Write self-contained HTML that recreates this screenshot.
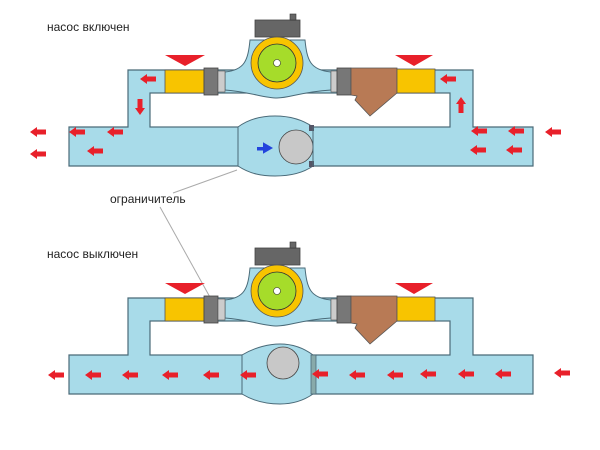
<!DOCTYPE html>
<html><head><meta charset="utf-8"><style>
html,body{margin:0;padding:0;background:#fff;width:600px;height:450px;overflow:hidden}
svg{display:block}
text{font-family:"Liberation Sans","DejaVu Sans",sans-serif;font-size:12px;fill:#222}
</style></head><body>
<svg width="600" height="450" viewBox="0 0 600 450" xmlns="http://www.w3.org/2000/svg">
<defs>
<g id="al"><path d="M-8,0 L-1,-5 L-1,-2.5 L8,-2.5 L8,2.5 L-1,2.5 L-1,5 Z" fill="#e8202a"/></g>
<g id="unit">
  <!-- pipes -->
  <path d="M69,127 H128 V70 H473 V127 H533 V166 H69 Z" fill="#a8dbe9" stroke="#4a6a78" stroke-width="1.2"/>
  <rect x="150" y="93" width="300" height="34" fill="#fff" stroke="#4a6a78" stroke-width="1.2"/>
  <!-- pump housing -->
  <path d="M225,72 C245,70 248,60 250,40 H305 C307,60 310,70 331,72 V90 C300,92 290,98 277,98 C264,98 250,92 225,90 Z" fill="#a8dbe9" stroke="#4a6a78" stroke-width="1"/>
  <rect x="255" y="20" width="45" height="17" fill="#666" stroke="#444" stroke-width="0.8"/>
  <rect x="290" y="14" width="6" height="6" fill="#666" stroke="#333" stroke-width="0.6"/>
  <circle cx="277" cy="63" r="26" fill="#f8c400" stroke="#555" stroke-width="0.8"/>
  <circle cx="277" cy="63" r="19" fill="#a6dc2a" stroke="#333" stroke-width="0.8"/>
  <circle cx="277" cy="63" r="3.5" fill="#fff" stroke="#333" stroke-width="0.6"/>
  <!-- left fittings -->
  <rect x="165" y="70" width="39" height="23" fill="#f8c400" stroke="#555" stroke-width="0.8"/>
  <rect x="204" y="68" width="14" height="27" fill="#777" stroke="#444" stroke-width="0.8"/>
  <rect x="218" y="71" width="7" height="21" fill="#ccc" stroke="#555" stroke-width="0.6"/>
  <path d="M165,55 H205 L185,66 Z" fill="#e8202a"/>
  <!-- right fittings -->
  <rect x="331" y="71" width="6" height="21" fill="#ccc" stroke="#555" stroke-width="0.6"/>
  <rect x="337" y="68" width="14" height="27" fill="#777" stroke="#444" stroke-width="0.8"/>
  <path d="M351,68 H397 V93 L370,116 L355,100 L357,96 L351,95 Z" fill="#b87a55" stroke="#555" stroke-width="0.8"/>
  <rect x="397" y="69" width="38" height="24" fill="#f8c400" stroke="#555" stroke-width="0.8"/>
  <path d="M395,55 H433 L414,66 Z" fill="#e8202a"/>
</g>
</defs>

<text x="47" y="31">насос включен</text>
<use href="#unit"/>
<!-- valve body top -->
<path d="M238,127 C250,118 265,116 275,116 C290,116 303,120 313,127 V166 C303,173 290,176 275,176 C262,176 250,174 238,166 Z" fill="#a8dbe9" stroke="#4a6a78" stroke-width="1"/>
<rect x="236" y="128" width="4" height="37" fill="#a8dbe9"/>
<line x1="238" y1="127" x2="238" y2="166" stroke="#4a6a78" stroke-width="1"/>
<circle cx="296" cy="147" r="17" fill="#c8c8c8" stroke="#444" stroke-width="0.8"/>
<rect x="309" y="125" width="5" height="6" fill="#556" />
<rect x="309" y="161" width="5" height="6" fill="#556" />
<line x1="313" y1="127" x2="313" y2="166" stroke="#4a6a78" stroke-width="1"/>
<path d="M258,148 L264,148 L264,144 L271,148 L264,152 L264,149.5 L258,149.5 Z" fill="#2244dd" stroke="#2244dd" stroke-width="2"/>

<use href="#al" x="38" y="132"/><use href="#al" x="38" y="154"/>
<use href="#al" x="77" y="132"/><use href="#al" x="115" y="132"/><use href="#al" x="95" y="151"/>
<use href="#al" x="148" y="79"/>
<g transform="translate(140,107) rotate(-90)"><use href="#al"/></g>
<use href="#al" x="448" y="79"/>
<g transform="translate(461,105) rotate(90)"><use href="#al"/></g>
<use href="#al" x="479" y="131"/><use href="#al" x="516" y="131"/><use href="#al" x="553" y="132"/>
<use href="#al" x="478" y="150"/><use href="#al" x="514" y="150"/>

<line x1="237" y1="170" x2="173" y2="193" stroke="#aaa" stroke-width="1"/>
<text x="110" y="203">ограничитель</text>
<line x1="160" y1="207" x2="242" y2="355" stroke="#aaa" stroke-width="1"/>

<text x="47" y="258">насос выключен</text>
<use href="#unit" y="228"/>
<path d="M242,355 C255,347 270,344 280,344 C295,344 305,349 313,355 V394 C303,401 292,404 280,404 C268,404 255,402 242,394 Z" fill="#a8dbe9" stroke="#4a6a78" stroke-width="1"/>
<line x1="242" y1="355" x2="242" y2="394" stroke="#4a6a78" stroke-width="1"/>
<circle cx="283" cy="363" r="16" fill="#c8c8c8" stroke="#444" stroke-width="0.8"/>
<rect x="311" y="355" width="5" height="39" fill="#8aa" stroke="#4a6a78" stroke-width="0.8"/>

<use href="#al" x="56" y="375"/><use href="#al" x="93" y="375"/><use href="#al" x="130" y="375"/>
<use href="#al" x="170" y="375"/><use href="#al" x="211" y="375"/><use href="#al" x="248" y="375"/>
<use href="#al" x="320" y="374"/><use href="#al" x="357" y="375"/><use href="#al" x="395" y="375"/>
<use href="#al" x="428" y="374"/><use href="#al" x="466" y="374"/><use href="#al" x="503" y="374"/>
<use href="#al" x="562" y="373"/>
</svg>
</body></html>
